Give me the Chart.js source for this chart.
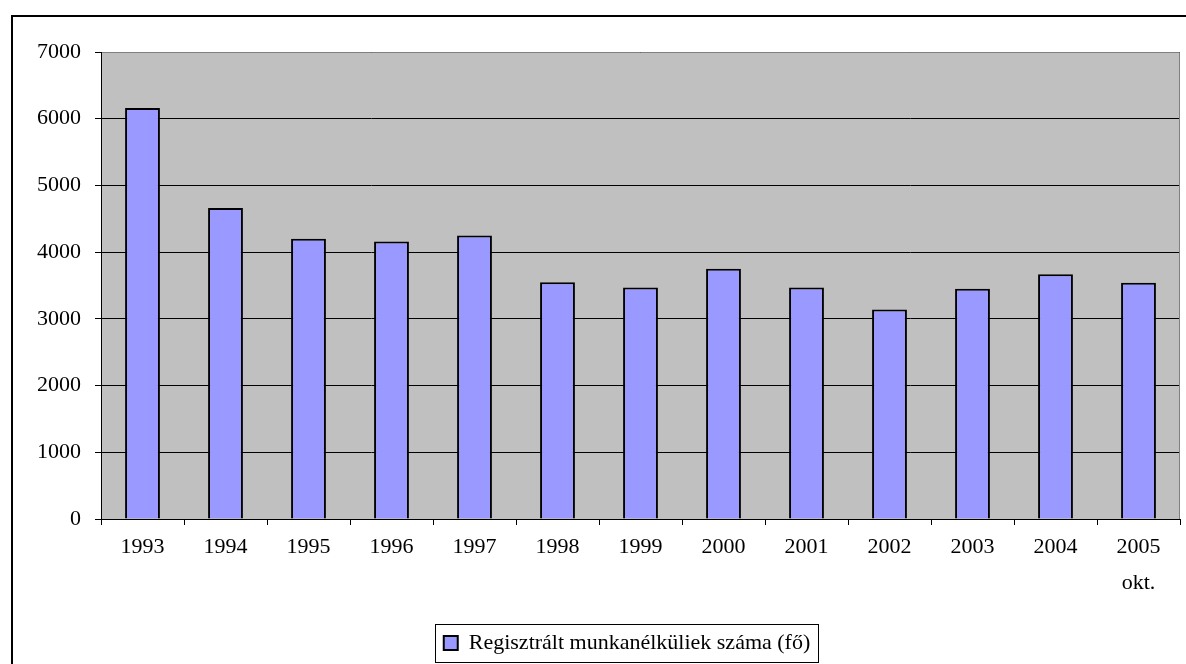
<!DOCTYPE html>
<html>
<head>
<meta charset="utf-8">
<script src="https://cdn.jsdelivr.net/npm/chart.js@4/dist/chart.umd.min.js"></script>
<style>
  html, body { margin: 0; padding: 0; background: #fff; overflow: hidden; }
  canvas { display: block; }
</style>
</head>
<body>
<canvas id="chart" width="1186" height="664"></canvas>
<script>
// data
const years = ['1993', '1994', '1995', '1996', '1997', '1998', '1999', '2000', '2001', '2002', '2003', '2004', ['2005', 'okt.']];
const unemployed = [6160, 4660, 4200, 4160, 4250, 3550, 3470, 3750, 3470, 3140, 3450, 3670, 3540];
const seriesName = 'Regisztrált munkanélküliek száma (fő)';
const yMin = 0;
const yMax = 7000;
const yStep = 1000;

const serif = 'Liberation Serif, Times New Roman, serif';
Chart.defaults.color = '#000';

// gray plot area, outer frame and boxed legend like the old spreadsheet chart
const framePlugin = {
  id: 'frame',
  afterUpdate(chart) {
    // legend sits a bit right of the centre in the reference
    const lg = chart.legend;
    const dx = 37;
    lg.left += dx;
    lg.right += dx;
    lg.legendHitBoxes.forEach(h => { h.left += dx; });
  },
  beforeDraw(chart) {
    const ctx = chart.ctx;
    const a = chart.chartArea;
    ctx.save();
    ctx.fillStyle = '#fff';
    ctx.fillRect(0, 0, chart.width, chart.height);
    ctx.strokeStyle = '#000';
    ctx.lineWidth = 2;
    ctx.strokeRect(12, 16, chart.width + 20, chart.height + 20);
    ctx.fillStyle = '#C0C0C0';
    ctx.fillRect(a.left, a.top, a.right - a.left, a.bottom - a.top);
    ctx.restore();
  },
  afterDatasetsDraw(chart) {
    const ctx = chart.ctx;
    const a = chart.chartArea;
    ctx.save();
    ctx.strokeStyle = '#808080';
    ctx.lineWidth = 1;
    ctx.beginPath();
    ctx.moveTo(a.left + 1, a.top + 0.5);
    ctx.lineTo(a.right - 0.5, a.top + 0.5);
    ctx.lineTo(a.right - 0.5, a.bottom);
    ctx.stroke();
    ctx.restore();
  },
  afterDraw(chart) {
    const box = chart.legend.legendHitBoxes[0];
    if (!box) return;
    const ctx = chart.ctx;
    ctx.save();
    ctx.strokeStyle = '#000';
    ctx.lineWidth = 1;
    ctx.strokeRect(Math.round(box.left - 9) + 0.5, Math.round(box.top - 8) + 0.5,
      Math.round(box.width + 17), Math.round(box.height + 16));
    ctx.restore();
  }
};

const ctx = document.getElementById('chart').getContext('2d');
new Chart(ctx, {
  type: 'bar',
  data: {
    labels: years,
    datasets: [{
      label: seriesName,
      data: unemployed,
      backgroundColor: '#9999FF',
      borderColor: '#000',
      borderWidth: 2,
      barPercentage: 0.42,
      categoryPercentage: 1
    }]
  },
  options: {
    responsive: false,
    animation: false,
    devicePixelRatio: 1,
    layout: {
      padding: { top: 52, left: 0, right: 6, bottom: 0 }
    },
    scales: {
      x: {
        afterFit: scale => { scale.height = 103; },
        border: { color: '#000', width: 1 },
        grid: { offset: true, drawOnChartArea: false, drawTicks: true, tickLength: 6, color: '#000' },
        ticks: {
          padding: 5,
          maxRotation: 0,
          autoSkip: false,
          font: { family: serif, size: 22, lineHeight: 1.6 }
        }
      },
      y: {
        min: yMin,
        max: yMax,
        afterFit: scale => { scale.width = 101; },
        border: { color: '#000', width: 1 },
        grid: { color: '#000', lineWidth: 1, tickLength: 6 },
        ticks: {
          stepSize: yStep,
          padding: 14,
          callback: v => String(v),
          font: { family: serif, size: 22 }
        }
      }
    },
    plugins: {
      legend: {
        position: 'bottom',
        labels: {
          boxWidth: 14,
          boxHeight: 14,
          padding: 10,
          font: { family: serif, size: 22 }
        }
      },
      tooltip: { enabled: false }
    }
  },
  plugins: [framePlugin]
});
</script>
</body>
</html>
